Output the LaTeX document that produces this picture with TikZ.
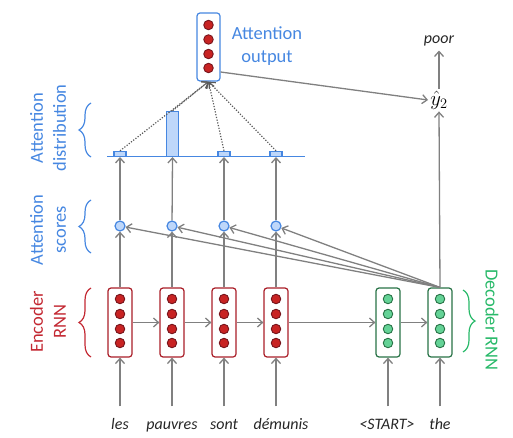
\documentclass[tikz,border=0pt]{standalone}
\usepackage{fontspec}
\setmainfont{Carlito}
\usetikzlibrary{arrows.meta,decorations.pathreplacing,calc}
\definecolor{ablue}{RGB}{70,135,225}
\definecolor{lblue}{RGB}{190,215,250}
\definecolor{ered}{RGB}{170,30,40}
\definecolor{rfill}{RGB}{200,35,35}
\definecolor{tred}{RGB}{195,40,50}
\definecolor{dgreen}{RGB}{40,115,70}
\definecolor{gfill}{RGB}{100,210,150}
\definecolor{tgreen}{RGB}{40,185,105}
\definecolor{agrey}{RGB}{128,128,128}
\tikzset{
  conn/.style={draw=agrey, line width=1.3pt, -{Straight Barb[length=5pt,width=9pt]}},
  dots/.style={draw=agrey!70!black, line width=1.2pt, dash pattern=on 1.2pt off 1.6pt, -{Straight Barb[length=5pt,width=9pt]}},
  vec/.style={draw, rounded corners=3pt, line width=1.2pt, minimum width=24pt, minimum height=69pt, inner sep=0pt, fill=white},
  encbox/.style={vec, draw=ered},
  decbox/.style={vec, draw=dgreen},
  outbox/.style={vec, draw=ablue, minimum width=23pt, minimum height=68pt},
  rdot/.style={circle, draw=ered!70!black, fill=rfill, minimum size=9.5pt, inner sep=0pt, line width=0.9pt},
  gdot/.style={circle, draw=dgreen, fill=gfill, minimum size=9.5pt, inner sep=0pt, line width=0.9pt},
  score/.style={circle, draw=ablue, fill=lblue, minimum size=10pt, inner sep=0pt, line width=1.2pt},
  bar/.style={draw=ablue, fill=lblue, line width=1.2pt, minimum width=12pt, inner sep=0pt, anchor=south},
  word/.style={font=\itshape\fontsize{16}{18}\selectfont, text=black!85, text height=11pt, text depth=3pt},
  lbl/.style={font=\fontsize{18.5}{23}\selectfont, align=center},
  bracestyle/.style={decorate, decoration={brace, amplitude=12pt}, line width=1.2pt},
}
\begin{document}
\begin{tikzpicture}[x=1pt,y=-1pt]
\useasboundingbox (0,0) rectangle (513,438);

% baseline of attention distribution
\draw[ablue, line width=1.5pt] (107,156.5) -- (305,156.5);

% encoder
\foreach \i/\x in {1/120,2/172,3/224,4/276} {
  \node[encbox] (e\i) at (\x,322.5) {};
  \foreach \k/\yy in {1/299,2/314,3/329,4/343}
    \node[rdot] (e\i c\k) at (\x,\yy) {};
  \node[score] (s\i) at (\x,226) {};
}
% decoder
\foreach \i/\x in {1/388,2/440} {
  \node[decbox] (d\i) at (\x,322.5) {};
  \foreach \k/\yy in {1/299,2/314,3/329,4/343}
    \node[gdot] (d\i c\k) at (\x,\yy) {};
}
% bars
\node[bar, minimum height=5pt] (b1) at (120,157) {};
\node[bar, minimum height=45pt] (b2) at (172.5,157) {};
\node[bar, minimum height=5pt] (b3) at (224,157) {};
\node[bar, minimum height=5pt] (b4) at (276,157) {};

% attention output
\node[outbox] (ao) at (208.5,47) {};
\foreach \k/\yy in {1/25,2/39.5,3/54,4/68}
  \node[rdot] (ao c\k) at (208.5,\yy) {};
\node[lbl, text=ablue] (aolbl) at (267,46.5) {Attention\\output};

% output
\node[font=\fontsize{20}{22}\selectfont, inner sep=2pt] (y2) at (439,100) {$\hat{y}_2$};
\node[word] (poor) at (439,40) {poor};

% words
\node[word] (w1) at (120,425) {les};
\node[word] (w2) at (172,425) {pauvres};
\node[word] (w3) at (224,425) {sont};
\node[word] (w4) at (281,425) {démunis};
\node[word] (w5) at (387,425) {<START>};
\node[word] (w6) at (440,425) {the};

% input arrows
\foreach \i in {1,...,4}
  \draw[conn, shorten <=8pt] (w\i.north -| e\i.south) -- (e\i.south);
\draw[conn, shorten <=8pt] (w5.north -| d1.south) -- (d1.south);
\draw[conn, shorten <=8pt] (w6.north -| d2.south) -- (d2.south);

% recurrent arrows
\draw[conn] (e1.east) -- (e2.west);
\draw[conn] (e2.east) -- (e3.west);
\draw[conn] (e3.east) -- (e4.west);
\draw[conn] (e4.east) -- (d1.west);
\draw[conn] (d1.east) -- (d2.west);

% encoder -> scores -> distribution
\foreach \i in {1,...,4} {
  \draw[conn] (e\i.north) -- (s\i);
  \draw[conn] (s\i) -- (b\i.south);
  \draw[dots] (b\i.north) -- (ao.south);
  \draw[conn] (d2.north) -- (s\i);
}

% decoder -> output
\draw[conn] (d2.north) -- (y2.south);
\draw[conn] (y2.north) -- (poor.south);
\draw[conn] ([yshift=-25pt]ao.east) -- (y2.west);

% labels and braces
\node[lbl, text=ablue, rotate=90] (ldist) at (48,128) {Attention\\distribution};
\draw[bracestyle, ablue] (91,157) -- (91,103);
\node[lbl, text=ablue, rotate=90] (lscore) at (48,230) {Attention\\scores};
\draw[bracestyle, ablue] (91,253) -- (91,200);
\node[lbl, text=tred, rotate=90] (lenc) at (48,322) {Encoder\\RNN};
\draw[bracestyle, tred] (91,357) -- (91,288);
\node[lbl, text=tgreen, rotate=-90] (ldec) at (492,320) {Decoder RNN};
\draw[bracestyle, tgreen] (463,290) -- (463,352);
\end{tikzpicture}
\end{document}
